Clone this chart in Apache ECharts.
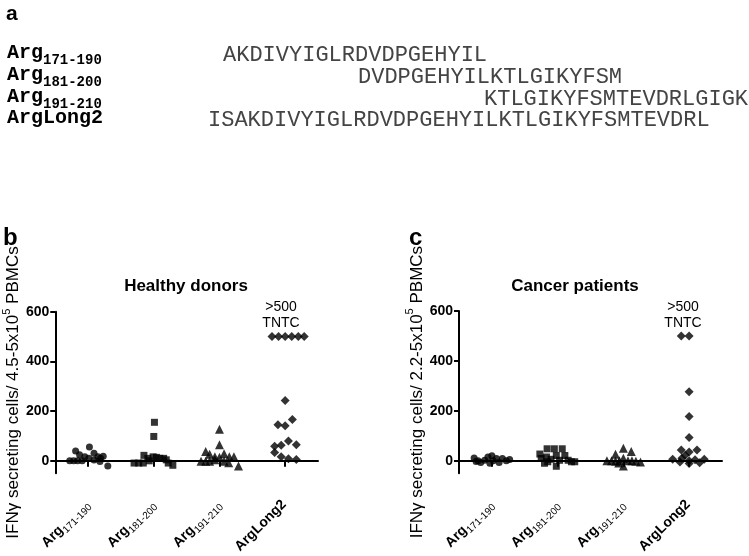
<!DOCTYPE html>
<html><head><meta charset="utf-8">
<script src="https://cdn.jsdelivr.net/npm/echarts@6/dist/echarts.min.js"></script>
<style>html,body{margin:0;padding:0;background:#fff}#c{width:749px;height:556px}</style>
</head><body><div id="c"></div>
<script>
// ---- data ----
const categories = ['Arg171-190', 'Arg181-200', 'Arg191-210', 'ArgLong2'];
const categorySubs = ['171-190', '181-200', '191-210', null];
const yTickValues = [0, 200, 400, 600];
const peptideNames = ['171-190', '181-200', '191-210', 'Long2'];
const peptideSeqs = ['AKDIVYIGLRDVDPGEHYIL', 'DVDPGEHYILKTLGIKYFSM', 'KTLGIKYFSMTEVDRLGIGK', 'ISAKDIVYIGLRDVDPGEHYILKTLGIKYFSMTEVDRL'];

// Healthy donors (panel b): values and horizontal scatter offsets (in category units)
const healthyArg171 = [40, 56, 24, 30, 16, 0, 0, 0, 0, 10, 16, 10, 18, -3, 3, -21];
const healthyArg171Jit = [-0.19, 0.02, -0.13, 0.09, -0.05, -0.28, -0.22, -0.16, -0.09, 0.01, 0.15, 0.19, 0.23, 0.18, 0.09, 0.30];
const healthyArg181 = [155, 98, -9, -9, -9, 22, 10, 16, 14, 10, 10, 4, -9, -18, 0];
const healthyArg181Jit = [0.01, 0.0, -0.30, -0.23, -0.16, -0.15, -0.09, -0.01, 0.04, 0.09, 0.15, 0.19, 0.22, 0.29, -0.07];
const healthyArg191 = [127, 65, 38, 26, 28, 16, 16, 16, 14, -2, -2, -2, 4, -2, -8, -21];
const healthyArg191Jit = [0, 0, -0.21, -0.15, 0.07, -0.07, 0.15, 0.22, 0, -0.28, -0.21, -0.15, -0.07, 0.07, 0.14, 0.29];
const healthyLong2 = [500, 500, 500, 500, 500, 500, 243, 145, 141, 166, 80, 59, 63, 65, 33, 16, 8, 5];
const healthyLong2Jit = [-0.2, -0.1, 0, 0.1, 0.2, 0.29, 0, -0.11, 0, 0.11, 0.05, -0.16, -0.06, 0.17, -0.16, -0.06, 0.05, 0.17];

// Cancer patients (panel c)
const cancerArg171 = [11, 0, -7, 2, 15, -10, 0, 9, -7, 9, 0, 5, -3, 20];
const cancerArg171Jit = [-0.27, -0.21, -0.17, -0.11, -0.06, -0.03, 0.02, 0.07, 0.11, 0.16, 0.22, 0.27, -0.24, 0.0];
const cancerArg181 = [48, 48, 48, 27, 9, 15, 6, 21, 2, 21, 2, -4, -4, -22, -4, -10];
const cancerArg181Jit = [-0.16, -0.05, 0.07, -0.27, -0.25, -0.17, -0.1, -0.02, 0.03, 0.11, 0.16, 0.21, 0.26, -0.02, -0.15, -0.2];
const cancerArg191 = [50, 26, 37, 0, 0, -2, 0, 10, 0, 0, -2, -5, -21, -9];
const cancerArg191Jit = [0, -0.12, 0.12, -0.25, -0.18, -0.12, -0.06, 0, 0.07, 0.13, 0.19, 0.26, 0, -0.07];
const cancerLong2 = [500, 500, 276, 177, 93, 43, 43, 35, 22, 10, 6, 6, 0, -5, 4, -11, -8];
const cancerLong2Jit = [-0.12, 0, 0, 0, 0, -0.12, 0.12, 0, -0.06, -0.11, -0.25, 0.23, 0, -0.14, 0.09, 0, 0.16];

// ---- build ----
const SANS = '"Liberation Sans", Arial, sans-serif';
const MONO = '"Liberation Mono", "Courier New", monospace';
const symbols = ['circle', 'rect', 'triangle', 'diamond'];
const symbolSizes = [7, 7, 9, 9];

function pts(vals, jit, ci) { return vals.map((v, i) => [ci + jit[i], v]); }

const xLabelRich = {
  b: { fontFamily: SANS, fontWeight: 'bold', fontSize: 14, color: '#000', verticalAlign: 'bottom', padding: [0, 0, 3, 0] },
  s: { fontFamily: SANS, fontSize: 10, color: '#000', verticalAlign: 'bottom' }
};
function xLabel(v) {
  const i = Math.round(v);
  if (categorySubs[i]) return '{b|Arg}{s|' + categorySubs[i] + '}';
  return '{b|' + categories[i] + '}';
}

function makeX(gi) {
  return {
    gridIndex: gi, type: 'value', min: -0.5, max: 3.5,
    axisLine: { onZero: true, lineStyle: { color: '#000', width: 2 } },
    axisTick: { show: true, customValues: [0, 1, 2, 3], length: 6, lineStyle: { color: '#000', width: 2 } },
    axisLabel: { customValues: [0, 1, 2, 3], rotate: 45, margin: 30, formatter: xLabel, rich: xLabelRich },
    splitLine: { show: false }
  };
}
function makeY(gi, range, gap) {
  return {
    gridIndex: gi, type: 'value', min: -50, max: 600,
    axisLine: { show: true, onZero: false, lineStyle: { color: '#000', width: 2 } },
    axisTick: { show: true, customValues: yTickValues, length: 5, lineStyle: { color: '#000', width: 2 } },
    axisLabel: { customValues: yTickValues, margin: 6, fontFamily: SANS, fontWeight: 'bold', fontSize: 14, color: '#000' },
    splitLine: { show: false },
    name: '{n|IFNγ secreting cells/ ' + range + 'x10}{p|5}{n| PBMCs}',
    nameLocation: 'middle', nameGap: gap,
    nameTextStyle: {
      rich: {
        n: { fontFamily: SANS, fontSize: 17, color: '#000', verticalAlign: 'top', padding: [4, 0, 0, 0] },
        p: { fontFamily: SANS, fontSize: 11, color: '#000', verticalAlign: 'top' }
      }
    }
  };
}

const panels = [
  { sets: [[healthyArg171, healthyArg171Jit], [healthyArg181, healthyArg181Jit], [healthyArg191, healthyArg191Jit], [healthyLong2, healthyLong2Jit]] },
  { sets: [[cancerArg171, cancerArg171Jit], [cancerArg181, cancerArg181Jit], [cancerArg191, cancerArg191Jit], [cancerLong2, cancerLong2Jit]] }
];
const series = [];
panels.forEach((p, gi) => {
  p.sets.forEach((s, ci) => {
    series.push({
      type: 'scatter', xAxisIndex: gi, yAxisIndex: gi,
      symbol: symbols[ci], symbolSize: symbolSizes[ci],
      itemStyle: { color: '#000' },
      data: pts(s[0], s[1], ci), silent: true, animation: false
    });
  });
});

const graphics = [];
graphics.push({ type: 'text', left: 6, top: 4, style: { text: 'a', font: 'bold 21px ' + SANS, fill: '#000' } });
graphics.push({ type: 'text', left: 3, top: 226, style: { text: 'b', font: 'bold 24px ' + SANS, fill: '#000' } });
graphics.push({ type: 'text', left: 409, top: 226, style: { text: 'c', font: 'bold 24px ' + SANS, fill: '#000' } });

const rowY = [55, 77, 99, 120];
const seqX = [223, 358, 484, 208];
peptideNames.forEach((nm, i) => {
  const txt = nm === 'Long2' ? '{b|ArgLong2}' : '{b|Arg}{s|' + nm + '}';
  graphics.push({
    type: 'text', x: 7, y: rowY[i],
    style: {
      text: txt, textVerticalAlign: 'middle',
      rich: {
        b: { font: 'bold 20px ' + MONO, fill: '#000', verticalAlign: 'bottom', padding: [0, 0, 5, 0] },
        s: { font: 'bold 14px ' + MONO, fill: '#000', verticalAlign: 'bottom' }
      }
    }
  });
  graphics.push({
    type: 'text', x: seqX[i], y: rowY[i],
    style: { text: peptideSeqs[i], font: '22px ' + MONO, fill: '#444', textVerticalAlign: 'middle' }
  });
});

graphics.push({ type: 'text', x: 186, y: 286, style: { text: 'Healthy donors', font: 'bold 17px ' + SANS, fill: '#000', textAlign: 'center', textVerticalAlign: 'middle' } });
graphics.push({ type: 'text', x: 575, y: 286, style: { text: 'Cancer patients', font: 'bold 17px ' + SANS, fill: '#000', textAlign: 'center', textVerticalAlign: 'middle' } });
[281, 683].forEach(cx => {
  graphics.push({ type: 'text', x: cx, y: 307, style: { text: '>500', font: '14px ' + SANS, fill: '#000', textAlign: 'center', textVerticalAlign: 'middle' } });
  graphics.push({ type: 'text', x: cx, y: 323, style: { text: 'TNTC', font: '14px ' + SANS, fill: '#000', textAlign: 'center', textVerticalAlign: 'middle' } });
});

const chart = echarts.init(document.getElementById('c'), null, { renderer: 'canvas' });
chart.setOption({
  animation: false,
  backgroundColor: '#fff',
  grid: [
    { left: 53, top: 311.7, width: 265, height: 176.2 },
    { left: 459, top: 311, width: 263, height: 175.5 }
  ],
  xAxis: [makeX(0), makeX(1)],
  yAxis: [makeY(0, '4.5-5', 30), makeY(1, '2.2-5', 24)],
  series: series,
  graphic: graphics
});
</script></body></html>
